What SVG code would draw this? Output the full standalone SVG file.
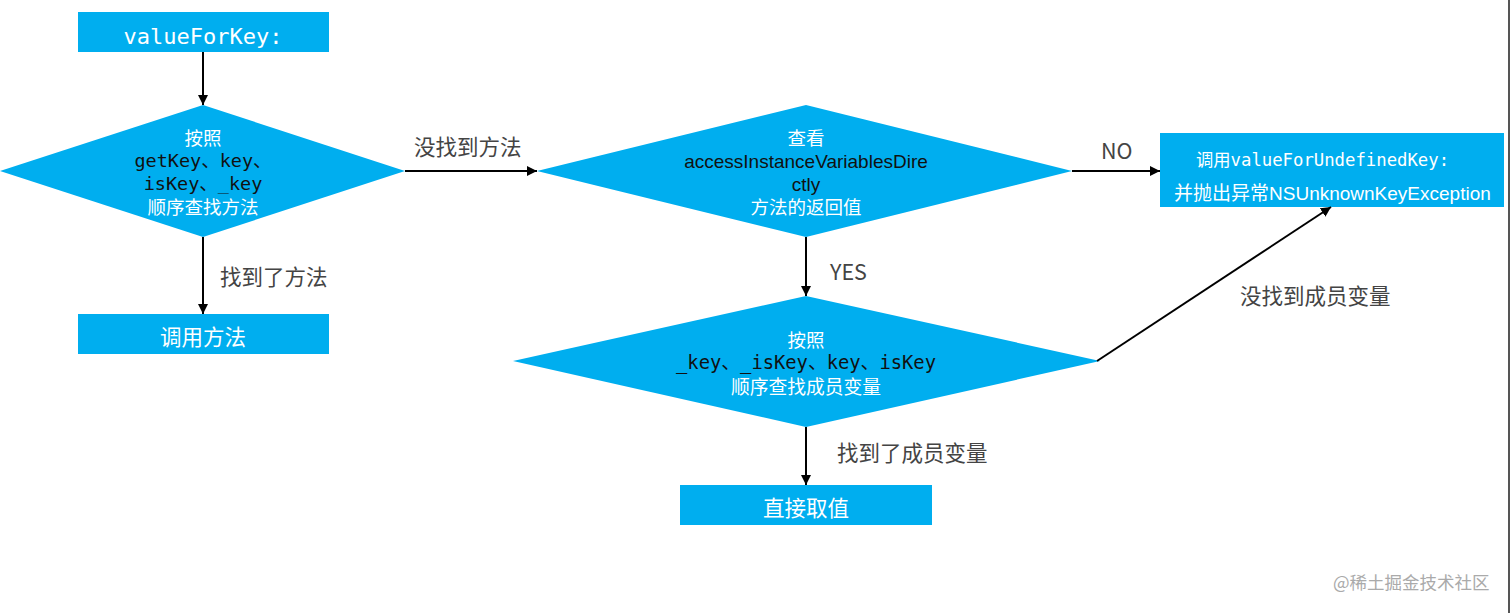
<svg xmlns="http://www.w3.org/2000/svg" width="1512" height="613" viewBox="0 0 1512 613">
<defs>
<style>
.box{fill:#00AEEF}
.wt{fill:#fff;font-family:"Noto Sans CJK SC","Noto Sans",sans-serif;text-anchor:middle}
.mono{font-family:"DejaVu Sans Mono","Noto Sans CJK SC",monospace;text-anchor:middle}
.blk{fill:#111}
.sans{font-family:"Liberation Sans","Noto Sans CJK SC",sans-serif;text-anchor:middle}
.lbl{fill:#444;font-family:"Noto Sans CJK SC","Liberation Sans",sans-serif;font-size:21.5px}
.ln{stroke:#000;stroke-width:2;fill:none;marker-end:url(#ah)}
</style>
<marker id="ah" viewBox="0 0 10 10" refX="10" refY="5" markerWidth="5" markerHeight="5" orient="auto" markerUnits="strokeWidth">
<path d="M0,0L10,5L0,10z" fill="#000"/>
</marker>
</defs>
<rect width="1512" height="613" fill="#fff"/>
<rect x="1508" y="0" width="2" height="613" fill="#555"/>

<g id="start">
<rect class="box" x="78" y="12" width="251" height="40"/>
<text class="mono" x="203" y="44" font-size="22" fill="#fff">valueForKey:</text>
</g>

<g id="d1">
<polygon class="box" points="0,171 203,105 405,171 203,237"/>
<text class="wt" x="203" y="145" font-size="18.5">按照</text>
<text class="mono blk" x="203" y="167" font-size="18.5">getKey、key、</text>
<text class="mono blk" x="203" y="190" font-size="18.5">isKey、_key</text>
<text class="wt" x="203" y="214" font-size="18.5">顺序查找方法</text>
</g>

<g id="callMethod">
<rect class="box" x="78" y="314" width="251" height="40"/>
<text class="wt" x="203" y="345" font-size="21.5">调用方法</text>
</g>

<g id="d2">
<polygon class="box" points="537,171 806,105 1072,171 806,237"/>
<text class="wt" x="806" y="145" font-size="18.5">查看</text>
<text class="sans blk" x="806" y="168" font-size="19">accessInstanceVariablesDire</text>
<text class="sans blk" x="806" y="191" font-size="19">ctly</text>
<text class="wt" x="806" y="214" font-size="18.5">方法的返回值</text>
</g>

<g id="undefined">
<rect class="box" x="1160" y="133" width="344" height="74"/>
<text x="1196" y="166" font-size="17.3" fill="#fff"><tspan font-family="Noto Sans CJK SC,sans-serif">调用</tspan><tspan font-family="DejaVu Sans Mono,monospace">valueForUndefinedKey:</tspan></text>
<text x="1174" y="200" font-size="19" fill="#fff"><tspan font-family="Noto Sans CJK SC,sans-serif">并抛出异常</tspan><tspan font-family="Liberation Sans,sans-serif">NSUnknownKeyException</tspan></text>
</g>

<g id="d3">
<polygon class="box" points="513,361 806,296 1100,361 806,427"/>
<text class="wt" x="806" y="347" font-size="18.5">按照</text>
<text class="mono blk" x="806" y="369" font-size="18.8">_key、_isKey、key、isKey</text>
<text class="wt" x="806" y="394" font-size="18.8">顺序查找成员变量</text>
</g>

<g id="direct">
<rect class="box" x="680" y="485" width="252" height="40"/>
<text class="wt" x="806" y="516" font-size="21.5">直接取值</text>
</g>

<g id="connectors">
<line class="ln" x1="203" y1="52" x2="203" y2="105"/>
<line class="ln" x1="203" y1="237" x2="203" y2="314"/>
<line class="ln" x1="405" y1="171" x2="537" y2="171"/>
<line class="ln" x1="1072" y1="171" x2="1160" y2="171"/>
<line class="ln" x1="806" y1="237" x2="806" y2="296"/>
<line class="ln" x1="806" y1="427" x2="806" y2="485"/>
<line class="ln" x1="1097" y1="361" x2="1331" y2="207"/>
<text class="lbl" x="220" y="285">找到了方法</text>
<text class="lbl" x="414" y="155">没找到方法</text>
<text class="lbl" x="1101" y="159" font-family="Liberation Sans,sans-serif" font-size="20">NO</text>
<text class="lbl" x="830" y="280" font-family="Liberation Sans,sans-serif" font-size="20">YES</text>
<text class="lbl" x="1240" y="304" font-size="22.5">没找到成员变量</text>
<text class="lbl" x="837" y="461">找到了成员变量</text>
</g>

<text x="1333" y="589" font-size="17.5" fill="#aaa" font-family="Noto Sans CJK SC,sans-serif">@稀土掘金技术社区</text>
</svg>
